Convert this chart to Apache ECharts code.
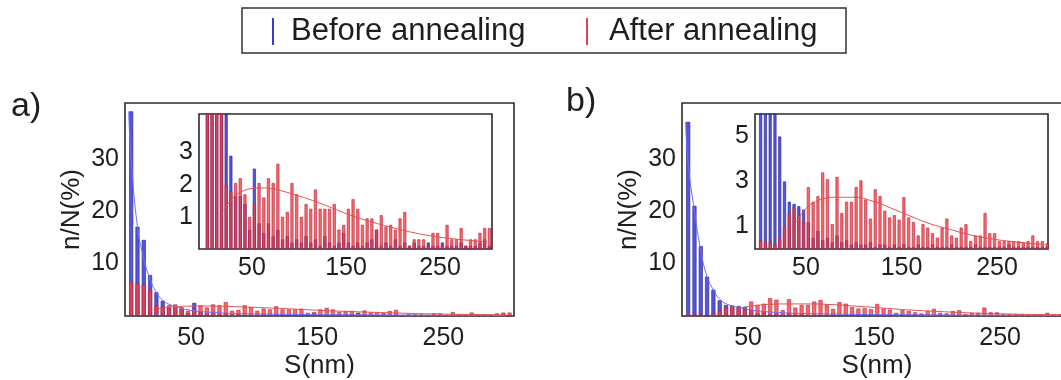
<!DOCTYPE html>
<html>
<head>
<meta charset="utf-8">
<script src="https://cdn.jsdelivr.net/npm/echarts@6/dist/echarts.min.js"></script>
<style>
html,body{margin:0;padding:0;background:#fff;}
#chart{width:1061px;height:380px;}
</style>
</head>
<body>
<div id="chart"></div>
<script>
// ---------- DATA ----------
const S_BINS = [2.5,7.5,12.5,17.5,22.5,27.5,32.5,37.5,42.5,47.5,52.5,57.5,62.5,67.5,72.5,77.5,82.5,87.5,92.5,97.5,
  102.5,107.5,112.5,117.5,122.5,127.5,132.5,137.5,142.5,147.5,152.5,157.5,162.5,167.5,172.5,177.5,182.5,187.5,192.5,197.5,
  202.5,207.5,212.5,217.5,222.5,227.5,232.5,237.5,242.5,247.5,252.5,257.5,262.5,267.5,272.5,277.5,282.5,287.5,292.5,297.5,302.5];

const BEFORE_A = [39,17,14.5,7.8,4.5,2.9,1.65,1.65,1.4,0.6, 2.5,0.8,0.5,0.8,0.4,0.6,0.3,0.4,0.2,0.3,
  0.2,0.4,0.2,0.3,0.1,0.4,0.2,0.1,0.2,0.5, 0.2,0.1,0.2,0.1,0.2,0.3,0.6,0.1,0.2,0.1,
  0.3,0.1,0.2,0.1,0.2,0.1,0.1,0.2,0.1,0.1, 0.2,0.1,0.1,0.1,0.2,0.1,0.1,0.1,0.2,0.3,0.1];
const AFTER_A = [6.5,6.2,6.0,5.0,2.0,1.8,2.05,2.2,1.7,1.0, 1.4,2.05,1.6,2.2,2.05,2.65,1.0,1.15,2.05,1.7,
  1.0,1.4,1.25,1.85,1.25,1.25,1.25,1.4,0.6,0.75, 1.25,1.55,1.25,0.75,0.95,0.95,0.6,1.05,0.7,0.75,
  0.6,0.95,1.15,0.1,0.3,0.3,0.3,0.1,0.5,0.5, 0.1,0.75,0.3,0.3,0.65,0.1,0.3,0.3,0.5,0.65,0.65];
const BEFORE_B = [37,21,13.3,7.5,5.0,3.0,2.1,2.0,1.9,1.75, 1.2,0.5,0.8,0.4,0.5,0.3,0.6,0.3,0.4,0.2,
  0.3,0.2,0.2,0.3,0.1,0.2,0.2,0.1,0.2,0.1, 0.2,0.1,0.1,0.2,0.1,0.1,0.2,0.1,0.1,0.1,
  0.2,0.1,0.1,0.1,0.1,0.2,0.1,0.1,0.1,0.1, 0.1,0.1,0.2,0.1,0.1,0.1,0.1,0.1,0.1,0.1,0.1];
const AFTER_B = [0.4,0.3,0.3,0.2,0.5,1.0,1.6,1.85,1.5,1.2, 2.75,2.1,2.35,3.4,3.1,1.1,3.2,1.6,2.1,2.1,
  2.75,3.05,2.2,1.35,2.65,2.35,1.7,1.4,1.5,1.3, 2.3,1.4,1.2,0.6,1.1,0.95,0.7,0.5,0.95,1.35,
  0.6,0.5,0.95,1.1,0.35,0.6,0.6,1.6,0.7,0.7, 0.35,0.35,0.35,0.35,0.35,0.3,0.35,0.6,0.35,0.35,0.25];

// fitted curves
const FIT_AFTER_A_X = [20,30,40,50,60,70,80,100,120,140,160,180,200,220,240,260,280,300];
const FIT_AFTER_A_Y = [1.2,1.6,1.8,1.88,1.9,1.88,1.82,1.65,1.45,1.22,1.0,0.82,0.66,0.52,0.41,0.33,0.27,0.22];
const FIT_AFTER_B_X = [40,50,60,70,80,100,120,140,160,180,200,220,240,260,280,300];
const FIT_AFTER_B_Y = [1.2,1.8,2.1,2.25,2.3,2.3,2.12,1.8,1.45,1.12,0.88,0.65,0.48,0.36,0.27,0.2];
const FIT_BEFORE_X = [0.5,2.5,7.5,12.5,17.5,22.5,27.5,35,45,60,100,200,300];
const FIT_BEFORE_A_Y = [39,30,17,11,7,4.5,3,2,1.3,0.8,0.4,0.2,0.1];
const FIT_BEFORE_B_Y = [37,29,20,12.5,7.5,5,3.2,2.1,1.5,0.9,0.45,0.2,0.1];

const X_TICKS = [50,150,250];
const Y_TICKS_MAIN = [10,20,30];
const Y_TICKS_INSET_A = [1,2,3];
const Y_TICKS_INSET_B = [1,3,5];
const SERIES_NAMES = ['Before annealing','After annealing'];
const PANEL_LABELS = ['a)','b)'];

// ---------- CHART ----------
const FONT = '"Liberation Sans", Arial, sans-serif';
const TXT = '#1e1e1e';
const BLUE = 'rgba(55,55,225,0.85)';
const BLUE_EDGE = '#22227a';
const RED = 'rgba(255,60,60,0.78)';
const RED_EDGE = '#b0203a';

function pairs(xs, ys){ return xs.map((x,i)=>[x, ys[i]]); }

const grids = [
  {left:125, top:103, width:389, height:213},
  {left:199, top:114, width:293, height:135},
  {left:682, top:103, width:390, height:213},
  {left:755, top:114, width:293, height:135}
].map(g => Object.assign({show:true, borderColor:'#2b2b2b', borderWidth:1.6, backgroundColor:'#fff',
  containLabel:false, outerBoundsMode:'none'}, g));

function xAxis(gi, min, max, named){
  return {
    type:'value', gridIndex:gi, min:min, max:max,
    axisLine:{show:false}, axisTick:{show:false}, splitLine:{show:false},
    axisLabel:{customValues:X_TICKS, color:TXT, fontSize:25, fontFamily:FONT, margin: named ? 10 : 7},
    name: named ? 'S(nm)' : '', nameLocation:'middle', nameGap:37, nameMoveOverlap:false,
    nameTextStyle:{color:TXT, fontSize:26, fontFamily:FONT}
  };
}
function yAxis(gi, max, ticks, named){
  return {
    type:'value', gridIndex:gi, min:0, max:max,
    axisLine:{show:false}, axisTick:{show:false}, splitLine:{show:false},
    axisLabel:{customValues:ticks, color:TXT, fontSize:25, fontFamily:FONT, margin:6},
    name: named ? 'n/N(%)' : '', nameLocation:'middle', nameGap:40, nameRotate:90, nameMoveOverlap:false,
    nameTextStyle:{color:TXT, fontSize:26, fontFamily:FONT}
  };
}

function barSeries(name, idx, vals, color, edge, w){
  return {
    type:'bar', name:name, xAxisIndex:idx, yAxisIndex:idx,
    data: pairs(S_BINS, vals), barWidth:w, barGap:'-100%',
    itemStyle:{color:color, borderColor:edge, borderWidth:0.6},
    clip:true, silent:true, animation:false
  };
}
function lineSeries(idx, xs, ys, color){
  return {
    type:'line', xAxisIndex:idx, yAxisIndex:idx, data:pairs(xs, ys),
    smooth:true, showSymbol:false, clip:true, silent:true, animation:false,
    lineStyle:{color:color, width:1}, z:3
  };
}

const series = [
  barSeries(SERIES_NAMES[0], 0, BEFORE_A, BLUE, BLUE_EDGE, 4),
  barSeries(SERIES_NAMES[1], 0, AFTER_A, RED, RED_EDGE, 4),
  lineSeries(0, FIT_BEFORE_X, FIT_BEFORE_A_Y, '#6b6bff'),
  lineSeries(0, FIT_AFTER_A_X, FIT_AFTER_A_Y, '#e05050'),
  barSeries(SERIES_NAMES[0], 1, BEFORE_A, BLUE, BLUE_EDGE, 3),
  barSeries(SERIES_NAMES[1], 1, AFTER_A, RED, RED_EDGE, 3),
  lineSeries(1, FIT_AFTER_A_X, FIT_AFTER_A_Y, '#e05050'),
  barSeries(SERIES_NAMES[0], 2, BEFORE_B, BLUE, BLUE_EDGE, 4),
  barSeries(SERIES_NAMES[1], 2, AFTER_B, RED, RED_EDGE, 4),
  lineSeries(2, FIT_BEFORE_X, FIT_BEFORE_B_Y, '#6b6bff'),
  lineSeries(2, FIT_AFTER_B_X, FIT_AFTER_B_Y, '#e05050'),
  barSeries(SERIES_NAMES[0], 3, BEFORE_B, BLUE, BLUE_EDGE, 3),
  barSeries(SERIES_NAMES[1], 3, AFTER_B, RED, RED_EDGE, 3),
  lineSeries(3, FIT_AFTER_B_X, FIT_AFTER_B_Y, '#e05050')
];

const option = {
  backgroundColor:'#fff',
  animation:false,
  grid: grids,
  xAxis: [xAxis(0,-2.4,306,true), xAxis(1,-6.4,305.3,false), xAxis(2,-2.4,307,true), xAxis(3,-3.4,303.4,false)],
  yAxis: [yAxis(0,40.6,Y_TICKS_MAIN,true), yAxis(1,4.2,Y_TICKS_INSET_A,false), yAxis(2,40.6,Y_TICKS_MAIN,true), yAxis(3,6,Y_TICKS_INSET_B,false)],
  series: series,
  graphic: [
    {type:'rect', shape:{x:242, y:8, width:604, height:45}, style:{fill:'#fff', stroke:'#333', lineWidth:1.5}, z:10},
    {type:'line', shape:{x1:273, y1:18, x2:273, y2:45}, style:{stroke:'#3a3acc', lineWidth:2}, z:11},
    {type:'text', x:291, y:31, style:{text:SERIES_NAMES[0], font:'31px '+FONT, fill:TXT, verticalAlign:'middle', align:'left'}, z:11},
    {type:'line', shape:{x1:587, y1:18, x2:587, y2:45}, style:{stroke:'#e0405a', lineWidth:2}, z:11},
    {type:'text', x:609, y:31, style:{text:SERIES_NAMES[1], font:'31px '+FONT, fill:TXT, verticalAlign:'middle', align:'left'}, z:11},
    {type:'text', x:11, y:107, style:{text:PANEL_LABELS[0], font:'34px '+FONT, fill:TXT, verticalAlign:'middle', align:'left'}, z:11},
    {type:'text', x:566, y:102, style:{text:PANEL_LABELS[1], font:'34px '+FONT, fill:TXT, verticalAlign:'middle', align:'left'}, z:11}
  ]
};

const chart = echarts.init(document.getElementById('chart'), null, {renderer:'canvas'});
chart.setOption(option);
</script>
</body>
</html>
